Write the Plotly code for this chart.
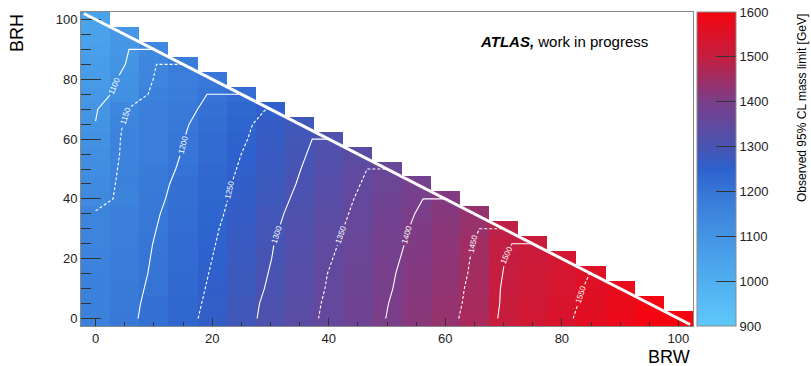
import math
import plotly.graph_objects as go

# ---- grid of branching ratios ----
BRW_VALUES = [0, 5, 10, 15, 20, 25, 30, 35, 40, 45, 50, 55, 60, 65, 70, 75, 80, 85, 90, 95, 100]
BRH_VALUES = [0, 5, 10, 15, 20, 25, 30, 35, 40, 45, 50, 55, 60, 65, 70, 75, 80, 85, 90, 95, 100]

# ---- observed mass limits [GeV], one list per BRH row, BRW ascending ----
LIMIT_BRH_000 = [1165, 1189, 1213, 1237, 1262, 1287, 1311, 1335, 1358, 1378, 1401, 1420, 1438, 1464, 1509, 1526, 1543, 1561, 1580, 1596, 1610]
LIMIT_BRH_005 = [1163, 1187, 1211, 1234, 1259, 1285, 1309, 1333, 1356, 1376, 1399, 1419, 1435, 1461, 1506, 1523, 1540, 1558, 1577, 1593]
LIMIT_BRH_010 = [1161, 1184, 1208, 1231, 1256, 1281, 1305, 1330, 1353, 1374, 1396, 1416, 1433, 1459, 1505, 1521, 1537, 1555, 1574]
LIMIT_BRH_015 = [1159, 1181, 1205, 1228, 1253, 1278, 1302, 1328, 1351, 1372, 1394, 1414, 1430, 1456, 1502, 1518, 1533, 1551]
LIMIT_BRH_020 = [1157, 1179, 1203, 1226, 1250, 1275, 1299, 1323, 1347, 1369, 1391, 1411, 1428, 1454, 1499, 1515, 1530]
LIMIT_BRH_025 = [1155, 1177, 1201, 1224, 1247, 1272, 1297, 1321, 1343, 1365, 1388, 1408, 1425, 1451, 1496, 1510]
LIMIT_BRH_030 = [1154, 1175, 1198, 1221, 1244, 1269, 1293, 1317, 1339, 1361, 1385, 1405, 1422, 1442, 1490]
LIMIT_BRH_035 = [1153, 1173, 1195, 1218, 1240, 1265, 1289, 1313, 1335, 1357, 1381, 1401, 1418, 1438]
LIMIT_BRH_040 = [1138, 1158, 1190, 1215, 1237, 1261, 1284, 1308, 1331, 1353, 1376, 1396, 1413]
LIMIT_BRH_045 = [1131, 1159, 1187, 1211, 1234, 1258, 1279, 1303, 1326, 1348, 1370, 1390]
LIMIT_BRH_050 = [1124, 1158, 1182, 1206, 1230, 1254, 1276, 1299, 1321, 1343, 1365]
LIMIT_BRH_055 = [1117, 1157, 1178, 1202, 1226, 1250, 1273, 1295, 1317, 1338]
LIMIT_BRH_060 = [1109, 1157, 1176, 1199, 1223, 1245, 1268, 1290, 1313]
LIMIT_BRH_065 = [1101, 1154, 1174, 1195, 1219, 1241, 1264, 1285]
LIMIT_BRH_070 = [1096, 1148, 1170, 1188, 1212, 1234, 1253]
LIMIT_BRH_075 = [1085, 1114, 1159, 1181, 1204, 1222]
LIMIT_BRH_080 = [1075, 1109, 1151, 1172, 1192]
LIMIT_BRH_085 = [1066, 1099, 1147, 1180]
LIMIT_BRH_090 = [1058, 1093, 1140]
LIMIT_BRH_095 = [1050, 1085]
LIMIT_BRH_100 = [1045]

LIMIT_ROWS = [
    LIMIT_BRH_000, LIMIT_BRH_005, LIMIT_BRH_010, LIMIT_BRH_015, LIMIT_BRH_020,
    LIMIT_BRH_025, LIMIT_BRH_030, LIMIT_BRH_035, LIMIT_BRH_040, LIMIT_BRH_045,
    LIMIT_BRH_050, LIMIT_BRH_055, LIMIT_BRH_060, LIMIT_BRH_065, LIMIT_BRH_070,
    LIMIT_BRH_075, LIMIT_BRH_080, LIMIT_BRH_085, LIMIT_BRH_090, LIMIT_BRH_095,
    LIMIT_BRH_100,
]

CONTOUR_LEVELS = [1100, 1150, 1200, 1250, 1300, 1350, 1400, 1450, 1500, 1550]
DASHED_LEVELS = [1150, 1250, 1350, 1450, 1550]
AXIS_TICKS = [0, 20, 40, 60, 80, 100]
COLORBAR_TICKS = [900, 1000, 1100, 1200, 1300, 1400, 1500, 1600]

# ---- styling / geometry ----
FIG_W, FIG_H = 811, 366
M_L, M_R, M_T, M_B = 81, 118, 12, 40
PLOT_W = FIG_W - M_L - M_R
PLOT_H = FIG_H - M_T - M_B
X_RANGE = [-2.5, 102.5]
Y_RANGE = [-2.5, 102.5]
SX = PLOT_W / (X_RANGE[1] - X_RANGE[0])
SY = PLOT_H / (Y_RANGE[1] - Y_RANGE[0])
FONT = "Liberation Sans, Arial, Helvetica, sans-serif"
Z_MIN, Z_MAX = 900, 1600

PALETTE = [
    (900, (95, 200, 250)),
    (1000, (80, 175, 240)),
    (1100, (68, 148, 228)),
    (1200, (55, 118, 215)),
    (1250, (45, 97, 205)),
    (1300, (72, 84, 178)),
    (1400, (122, 62, 138)),
    (1500, (196, 30, 64)),
    (1600, (245, 5, 15)),
]
COLORSCALE = [[(v - Z_MIN) / (Z_MAX - Z_MIN), "rgb(%d,%d,%d)" % c] for v, c in PALETTE]

# label heights (BRH) at which each contour carries its value
LABEL_BRH = {1100: 78, 1150: 68, 1200: 58, 1250: 43, 1300: 28,
             1350: 28, 1400: 28, 1450: 25, 1500: 21, 1550: 8}
LABEL_GAP_PX = 11


def row_crossing(xs, vs, level):
    for i in range(len(vs) - 1):
        if vs[i] < level <= vs[i + 1]:
            return xs[i] + (level - vs[i]) / (vs[i + 1] - vs[i]) * (xs[i + 1] - xs[i])
    return None


def contour_path(level):
    pts = []
    for j, y in enumerate(BRH_VALUES):
        vs = LIMIT_ROWS[j]
        xs = BRW_VALUES[:len(vs)]
        xc = row_crossing(xs, vs, level)
        if xc is not None:
            pts.append((xc, y))
        if j + 1 < len(BRH_VALUES):
            nxt = LIMIT_ROWS[j + 1]
            y2 = BRH_VALUES[j + 1]
            if vs[0] >= level > nxt[0]:
                yc = y + (vs[0] - level) / (vs[0] - nxt[0]) * (y2 - y)
                pts.append((BRW_VALUES[0], yc))
            if pts and max(nxt) < level:
                # close along the last populated row up to the BRW+BRH=100 edge
                pts.append((xs[-1], y))
                break
    return pts


def to_px(p):
    return (p[0] * SX, p[1] * SY)


def split_for_label(pts, label_y):
    px = [to_px(p) for p in pts]
    cum = [0.0]
    for a, b in zip(px[:-1], px[1:]):
        cum.append(cum[-1] + math.hypot(b[0] - a[0], b[1] - a[1]))

    # locate the label point
    s0, seg = None, 0
    for i in range(len(pts) - 1):
        y1, y2 = pts[i][1], pts[i + 1][1]
        if min(y1, y2) <= label_y <= max(y1, y2) and y1 != y2:
            t = (label_y - y1) / (y2 - y1)
            s0 = cum[i] + t * (cum[i + 1] - cum[i])
            seg = i
            break
    if s0 is None:
        s0 = cum[-1] / 2
        seg = max(i for i in range(len(pts) - 1) if cum[i] <= s0)

    def point_at(s):
        for i in range(len(pts) - 1):
            if cum[i] <= s <= cum[i + 1]:
                t = 0 if cum[i + 1] == cum[i] else (s - cum[i]) / (cum[i + 1] - cum[i])
                return (pts[i][0] + t * (pts[i + 1][0] - pts[i][0]),
                        pts[i][1] + t * (pts[i + 1][1] - pts[i][1]))
        return pts[-1]

    s_a, s_b = s0 - LABEL_GAP_PX, s0 + LABEL_GAP_PX
    first = [p for p, s in zip(pts, cum) if s < s_a]
    if first:
        first.append(point_at(s_a))
    second = [point_at(s_b)] if s_b < cum[-1] else []
    second += [p for p, s in zip(pts, cum) if s > s_b]

    a, b = px[seg], px[seg + 1]
    ang = -math.degrees(math.atan2(b[1] - a[1], b[0] - a[0]))
    if ang < -90:
        ang += 180
    elif ang > 90:
        ang -= 180
    return first, second, point_at(s0), ang


# ---- heatmap ----
z = []
for row in LIMIT_ROWS:
    z.append([row[i] if i < len(row) else None for i in range(len(BRW_VALUES))])

fig = go.Figure()
fig.add_trace(go.Heatmap(
    x=BRW_VALUES, y=BRH_VALUES, z=z,
    zmin=Z_MIN, zmax=Z_MAX, colorscale=COLORSCALE, hoverongaps=False,
    colorbar=dict(
        x=(697 - M_L) / PLOT_W, xanchor="left", y=0.5, yanchor="middle",
        len=1, lenmode="fraction", thickness=39, thicknessmode="pixels",
        xpad=0, ypad=0, outlinewidth=1, outlinecolor="#8a8a8a",
        ticks="inside", ticklen=20, tickwidth=1, tickcolor="#333333",
        tickvals=COLORBAR_TICKS, tickfont=dict(family=FONT, size=13, color="#222222"),
    ),
))

# ---- contour lines with inline labels ----
annotations = []
for level in CONTOUR_LEVELS:
    pts = contour_path(level)
    if len(pts) < 2:
        continue
    first, second, lab, ang = split_for_label(pts, LABEL_BRH[level])
    xs, ys = [], []
    for piece in (first, second):
        if len(piece) >= 2:
            xs += [p[0] for p in piece] + [None]
            ys += [p[1] for p in piece] + [None]
    fig.add_trace(go.Scatter(
        x=xs, y=ys, mode="lines", hoverinfo="skip", showlegend=False,
        line=dict(color="white", width=1.1,
                  dash="3px,2px" if level in DASHED_LEVELS else "solid"),
    ))
    annotations.append(dict(
        x=lab[0], y=lab[1], xref="x", yref="y", text=str(level), showarrow=False,
        textangle=ang, xanchor="center", yanchor="middle",
        font=dict(family=FONT, size=8, color="white"), borderpad=0,
    ))

# diagonal kinematic edge BRW + BRH = 100
fig.add_shape(type="line", xref="x", yref="y", x0=-2, y0=102, x1=102, y1=-2,
              line=dict(color="white", width=3), layer="above")

# ---- text ----
annotations += [
    dict(x=(478 - M_L) / PLOT_W, y=(M_T + PLOT_H - 42) / PLOT_H, xref="paper", yref="paper",
         xanchor="left", yanchor="middle", showarrow=False,
         text="<b><i>ATLAS,</i></b> work in progress",
         font=dict(family=FONT, size=15, color="black")),
    dict(x=(17 - M_L) / PLOT_W, y=1.0, xref="paper", yref="paper",
         xanchor="center", yanchor="top", textangle=-90, showarrow=False,
         text="BRH", font=dict(family=FONT, size=18, color="black")),
    dict(x=(692 - M_L) / PLOT_W, y=(M_T + PLOT_H - 357) / PLOT_H, xref="paper", yref="paper",
         xanchor="right", yanchor="middle", showarrow=False,
         text="BRW", font=dict(family=FONT, size=18, color="black")),
    dict(x=(802 - M_L) / PLOT_W, y=1.0, xref="paper", yref="paper",
         xanchor="center", yanchor="top", textangle=-90, showarrow=False,
         text="Observed 95% CL mass limit [GeV]",
         font=dict(family=FONT, size=12, color="black")),
]

axis_common = dict(
    showgrid=False, zeroline=False, showline=True, linecolor="#8a8a8a", linewidth=1,
    mirror=True, ticks="inside", tickcolor="#333333", tickwidth=1,
    tickvals=AXIS_TICKS, tickfont=dict(family=FONT, size=13, color="#222222"),
)
fig.update_layout(
    width=FIG_W, height=FIG_H,
    margin=dict(l=M_L, r=M_R, t=M_T, b=M_B),
    paper_bgcolor="white", plot_bgcolor="white",
    xaxis=dict(range=X_RANGE, ticklen=8,
               minor=dict(dtick=5, tick0=0, ticks="inside", ticklen=4, tickcolor="#333333"),
               **axis_common),
    yaxis=dict(range=Y_RANGE, ticklen=20,
               minor=dict(dtick=5, tick0=0, ticks="inside", ticklen=10, tickcolor="#333333"),
               **axis_common),
    annotations=annotations,
    showlegend=False,
)

fig.write_html("out.html")
